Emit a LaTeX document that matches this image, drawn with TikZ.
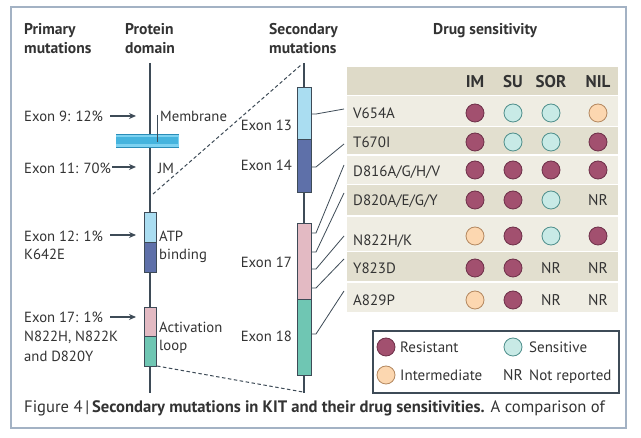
\documentclass[tikz,border=0pt]{standalone}
\usepackage{fontspec}
\setmainfont{PT Sans}
\usetikzlibrary{arrows.meta}
\definecolor{txt}{HTML}{333333}
\definecolor{framec}{HTML}{A3B2C4}
\definecolor{linec}{HTML}{3E4B57}
\definecolor{res}{HTML}{A2506F}
\definecolor{resd}{HTML}{6E3049}
\definecolor{sen}{HTML}{C8EAE6}
\definecolor{send}{HTML}{4F8F8C}
\definecolor{imd}{HTML}{FCD7B0}
\definecolor{imdd}{HTML}{B48860}
\definecolor{lblue}{HTML}{AADDF1}
\definecolor{dblue}{HTML}{5E70A9}
\definecolor{pinkc}{HTML}{E3BAC3}
\definecolor{tealc}{HTML}{6FC6B3}
\definecolor{rowA}{HTML}{EFEDE3}
\definecolor{rowB}{HTML}{E2DFCF}
\definecolor{hdr}{HTML}{DEDAC8}
\definecolor{mem}{HTML}{7DD2F1}
\definecolor{memm}{HTML}{45B4DE}
\definecolor{memd}{HTML}{2A8DB8}
\tikzset{
  lbl/.style={text=txt, font=\fontsize{14.7}{16}\selectfont, inner sep=0pt, anchor=base west},
  lble/.style={lbl, anchor=base east},
  hd/.style={text=txt, font=\bfseries\fontsize{15.6}{17}\selectfont, inner sep=0pt, anchor=base west},
  rowlbl/.style={text=txt, font=\fontsize{15}{17}\selectfont, inner sep=0pt, anchor=base west},
  colhd/.style={text=txt, font=\bfseries\fontsize{17}{19}\selectfont, inner sep=0pt, anchor=base},
  nrtxt/.style={text=txt, font=\fontsize{15.5}{17}\selectfont, inner sep=0pt, anchor=base},
  axisln/.style={draw=linec, line width=1.4pt},
  seg/.style={draw=linec, line width=0.9pt},
  arr/.style={draw=linec, line width=1.3pt, -{Stealth[length=7pt,width=6pt]}},
  dashln/.style={draw=linec, line width=1pt, dash pattern=on 3.5pt off 2.5pt},
  lead/.style={draw=linec, line width=0.8pt},
  resist/.style={circle, minimum size=18pt, inner sep=0pt, fill=res, draw=resd, line width=0.8pt},
  sensit/.style={circle, minimum size=18pt, inner sep=0pt, fill=sen, draw=send, line width=0.8pt},
  interm/.style={circle, minimum size=18pt, inner sep=0pt, fill=imd, draw=imdd, line width=0.8pt},
}
\begin{document}
\begin{tikzpicture}[x=1pt,y=-1pt]
\useasboundingbox (0,0) rectangle (641,438);
\fill[white] (0,0) rectangle (641,438);
\draw[framec, line width=1.4pt] (11,7) rectangle (626,428);

% headers
\node[hd] (hp1) at (24,35) {Primary};
\node[hd] (hp2) at (24,54) {mutations};
\node[hd] (hd1) at (125,35) {Protein};
\node[hd] (hd2) at (125,54) {domain};
\node[hd] (hs1) at (269,35) {Secondary};
\node[hd] (hs2) at (269,54) {mutations};
\node[hd] (hds) at (433,35) {Drug sensitivity};

% protein domain axis
\coordinate (ptop) at (150,63);
\coordinate (pbot) at (150,393);
\draw[axisln] (ptop) -- (pbot);
% membrane band
\fill[mem] (116,134) rectangle (179,148);
\foreach \i in {0,...,61} {\draw[memm, line width=0.4pt] (116.5+\i,137.5) -- (116.5+\i,144.5);}
\draw[memd, line width=1pt] (116,134.5) -- (179,134.5) (116,147.5) -- (179,147.5);
\draw[lead] (157,115) -- (157,142);
% boxes
\draw[seg, fill=lblue] (144,212) rectangle (156,242);
\draw[seg, fill=dblue] (144,242) rectangle (156,272);
\draw[seg, fill=pinkc] (144,307) rectangle (156,336);
\draw[seg, fill=tealc] (144,336) rectangle (156,366);

% labels protein
\node[lbl] (mb) at (160,122) {Membrane};
\node[lbl] (jm) at (158,174) {JM};
\node[lbl] (atp) at (159,242) {ATP};
\node[lbl] (bind) at (159,260) {binding};
\node[lbl] (act) at (159,333) {Activation};
\node[lbl] (loop) at (159,351) {loop};

% primary mutations
\node[lbl] (e9) at (24,122) {Exon 9: 12\%};
\node[lbl] (e11) at (24,174) {Exon 11: 70\%};
\node[lbl] (e12) at (24,242) {Exon 12: 1\%};
\node[lbl] (k642) at (24,260) {K642E};
\node[lbl] (e17) at (24,323) {Exon 17: 1\%};
\node[lbl] (n822) at (24,342) {N822H, N822K};
\node[lbl] (d820) at (24,362) {and D820Y};
\coordinate (a9s) at (110,116); \coordinate (a9e) at (136,116);
\coordinate (a11s) at (112,167); \coordinate (a11e) at (136,167);
\coordinate (a12s) at (110,235); \coordinate (a12e) at (136,235);
\coordinate (a17s) at (110,317); \coordinate (a17e) at (136,317);
\draw[arr] (a9s) -- (a9e);
\draw[arr] (a11s) -- (a11e);
\draw[arr] (a12s) -- (a12e);
\draw[arr] (a17s) -- (a17e);

% secondary axis
\coordinate (stop) at (304,63);
\coordinate (sbot) at (304,393);
\draw[axisln] (stop) -- (sbot);
\draw[seg, fill=lblue] (297,87) rectangle (311,139);
\draw[seg, fill=dblue] (297,139) rectangle (311,192);
\draw[seg, fill=pinkc] (297,223) rectangle (311,299);
\draw[seg, fill=tealc] (297,299) rectangle (311,375);
\node[lble] (x13) at (292,131) {Exon 13};
\node[lble] (x14) at (292,171) {Exon 14};
\node[lble] (x17) at (292,268) {Exon 17};
\node[lble] (x18) at (292,342) {Exon 18};

% dashed zoom lines
\coordinate (djm) at (153,194);
\coordinate (dst) at (301,65);
\coordinate (dal) at (157,366);
\coordinate (dsb) at (303,392);
\draw[dashln] (djm) -- (dst);
\draw[dashln] (dal) -- (dsb);

% table
\fill[hdr] (347,67) rectangle (618,95);
\fill[rowA] (347,96) rectangle (618,126);
\fill[rowB] (347,127.5) rectangle (618,154.5);
\fill[rowA] (347,156) rectangle (618,184);
\fill[rowB] (347,185.5) rectangle (618,215.5);
\fill[rowA] (347,217) rectangle (618,251);
\fill[rowB] (347,252.5) rectangle (618,281.5);
\fill[rowA] (347,283) rectangle (618,312);

\node[colhd] (cim) at (475,88) {IM};
\node[colhd] (csu) at (513,88) {SU};
\node[colhd] (csor) at (551,88) {SOR};
\node[colhd] (cnil) at (598,88) {NIL};

\node[rowlbl] (r1) at (353,119) {V654A};
\node[rowlbl] (r2) at (353,148) {T670I};
\node[rowlbl] (r3) at (353,177) {D816A/G/H/V};
\node[rowlbl] (r4) at (353,206) {D820A/E/G/Y};
\node[rowlbl] (r5) at (353,246) {N822H/K};
\node[rowlbl] (r6) at (353,274) {Y823D};
\node[rowlbl] (r7) at (353,306) {A829P};

% connectors from bar to rows
\coordinate (t1a) at (311,114); \coordinate (t1b) at (316,114); \coordinate (t1c) at (344,109);
\coordinate (t2a) at (311,167); \coordinate (t2b) at (316,167); \coordinate (t2c) at (344,144);
\coordinate (t3a) at (311,233); \coordinate (t3b) at (316,233); \coordinate (t3c) at (344,165);
\coordinate (t4a) at (311,252); \coordinate (t4b) at (316,252); \coordinate (t4c) at (344,193);
\coordinate (t5a) at (311,269); \coordinate (t5b) at (316,269); \coordinate (t5c) at (344,236);
\coordinate (t6a) at (311,288); \coordinate (t6b) at (316,288); \coordinate (t6c) at (344,259);
\coordinate (t7a) at (311,334); \coordinate (t7b) at (316,334); \coordinate (t7c) at (344,291);
\foreach \k in {1,...,7} {\draw[lead] (t\k a) -- (t\k b) -- (t\k c);}

% circles
\node[resist] (c11) at (475,113) {}; \node[sensit] (c12) at (513,113) {}; \node[sensit] (c13) at (551,113) {}; \node[interm] (c14) at (598,113) {};
\node[resist] (c21) at (475,142) {}; \node[sensit] (c22) at (513,142) {}; \node[sensit] (c23) at (551,142) {}; \node[resist] (c24) at (598,142) {};
\node[resist] (c31) at (475,170) {}; \node[resist] (c32) at (513,170) {}; \node[resist] (c33) at (551,170) {}; \node[resist] (c34) at (598,170) {};
\node[resist] (c41) at (475,200) {}; \node[resist] (c42) at (513,200) {}; \node[sensit] (c43) at (551,200) {}; \node[nrtxt] (c44) at (598,206) {NR};
\node[interm] (c51) at (475,236) {}; \node[resist] (c52) at (513,236) {}; \node[sensit] (c53) at (551,236) {}; \node[resist] (c54) at (598,236) {};
\node[resist] (c61) at (475,268) {}; \node[resist] (c62) at (513,268) {}; \node[nrtxt] (c63) at (551,274) {NR}; \node[nrtxt] (c64) at (598,274) {NR};
\node[interm] (c71) at (475,300) {}; \node[resist] (c72) at (513,300) {}; \node[nrtxt] (c73) at (551,306) {NR}; \node[nrtxt] (c74) at (598,306) {NR};

% legend
\draw[draw=linec, line width=1.1pt] (373,331) rectangle (619,393);
\node[resist] (lr) at (386,347) {};
\node[rowlbl] (lrt) at (400,353) {Resistant};
\node[sensit] (ls) at (513,347) {};
\node[rowlbl] (lst) at (529,353) {Sensitive};
\node[interm] (li) at (386,375) {};
\node[rowlbl] (lit) at (400,381) {Intermediate};
\node[nrtxt] (lnr) at (513,381) {NR};
\node[rowlbl] (lnrt) at (529,381) {Not reported};

% caption
\node[text=txt, font=\fontsize{16.6}{18}\selectfont, inner sep=0pt, anchor=base west] (cap) at (24,413)
  {Figure 4\,|\,\textbf{Secondary mutations in KIT and their drug sensitivities.} A comparison of};
\end{tikzpicture}
\end{document}
